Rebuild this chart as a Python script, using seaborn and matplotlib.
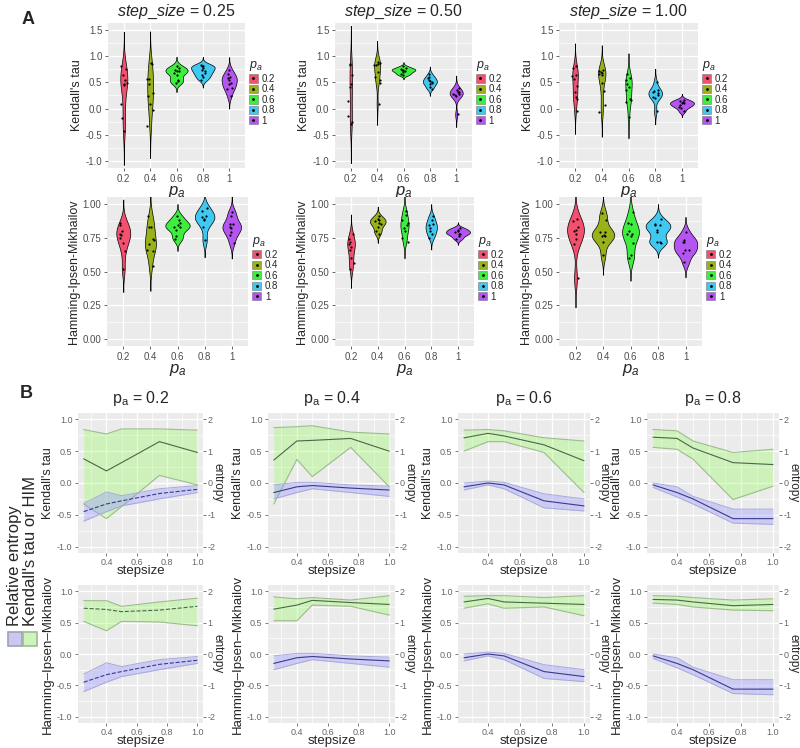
import numpy as np
import pandas as pd
import matplotlib
matplotlib.use('Agg')
import matplotlib.pyplot as plt
import seaborn as sns
from matplotlib.patches import Patch, Rectangle
from matplotlib.lines import Line2D
from matplotlib.ticker import MultipleLocator, FormatStrFormatter

sns.set_style('darkgrid', {'axes.facecolor': '#EBEBEB', 'grid.color': 'white'})
plt.rcParams['font.family'] = ['Liberation Sans', 'DejaVu Sans']
plt.rcParams['mathtext.fontset'] = 'custom'
plt.rcParams['mathtext.rm'] = 'Liberation Sans'
plt.rcParams['mathtext.it'] = 'Liberation Sans:italic'
plt.rcParams['mathtext.bf'] = 'Liberation Sans:bold'
plt.rcParams['axes.unicode_minus'] = False

# ---- panel A data: one list of values per p_a category ----
cats = ['0.2', '0.4', '0.6', '0.8', '1']
violin_cols = ['#F2506E', '#99B21A', '#3EEE3E', '#3EC8F2', '#B455F2']
step_titles = ['0.25', '0.50', '1.00']

tau_025 = [[0.81, 0.75, 0.64, 0.55, 0.49, 0.46, 0.44, 0.08, -0.17, -0.42],
           [0.86, 0.84, 0.57, 0.56, 0.46, 0.30, 0.24, 0.08, -0.02, -0.33],
           [0.81, 0.77, 0.74, 0.72, 0.71, 0.68, 0.63, 0.55, 0.52, 0.49],
           [0.83, 0.81, 0.80, 0.77, 0.74, 0.71, 0.68, 0.64, 0.60, 0.55],
           [0.74, 0.66, 0.60, 0.58, 0.55, 0.49, 0.46, 0.39, 0.37, 0.24]]
tau_050 = [[0.84, 0.83, 0.63, 0.46, 0.42, 0.14, -0.14, -0.25, -0.30],
           [0.89, 0.86, 0.85, 0.83, 0.83, 0.69, 0.60, 0.55, 0.49, 0.09],
           [0.80, 0.77, 0.75, 0.74, 0.73, 0.71, 0.69, 0.66, 0.64],
           [0.66, 0.60, 0.58, 0.55, 0.52, 0.50, 0.49, 0.46, 0.41, 0.38],
           [0.39, 0.35, 0.32, 0.31, 0.28, 0.27, 0.25, 0.24, -0.11]]
tau_100 = [[0.80, 0.77, 0.63, 0.62, 0.57, 0.43, 0.31, 0.23, 0.19, -0.04],
           [0.74, 0.71, 0.70, 0.68, 0.66, 0.63, 0.48, 0.34, 0.07, -0.07],
           [0.65, 0.58, 0.54, 0.46, 0.42, 0.35, 0.19, 0.17, 0.12, -0.16],
           [0.51, 0.36, 0.34, 0.32, 0.29, 0.25, 0.23, 0.20, -0.05],
           [0.17, 0.15, 0.12, 0.10, 0.10, 0.07, 0.04, 0.02, -0.05]]
him_025 = [[0.86, 0.84, 0.80, 0.78, 0.77, 0.75, 0.71, 0.65, 0.52],
           [0.91, 0.83, 0.83, 0.74, 0.73, 0.70, 0.66, 0.65, 0.54],
           [0.91, 0.88, 0.86, 0.84, 0.83, 0.83, 0.81, 0.76, 0.74],
           [0.97, 0.95, 0.91, 0.90, 0.89, 0.88, 0.83, 0.73],
           [0.94, 0.91, 0.85, 0.85, 0.83, 0.82, 0.79, 0.77, 0.71]]
him_050 = [[0.78, 0.74, 0.72, 0.70, 0.68, 0.66, 0.60, 0.56, 0.52],
           [0.91, 0.89, 0.88, 0.87, 0.86, 0.85, 0.83, 0.80, 0.78],
           [0.95, 0.92, 0.88, 0.86, 0.84, 0.82, 0.80, 0.75, 0.72],
           [0.91, 0.88, 0.85, 0.84, 0.82, 0.80, 0.78, 0.75],
           [0.82, 0.81, 0.80, 0.79, 0.78, 0.78, 0.76, 0.74]]
him_100 = [[0.89, 0.87, 0.83, 0.81, 0.80, 0.78, 0.74, 0.70, 0.45],
           [0.93, 0.88, 0.79, 0.79, 0.77, 0.76, 0.76, 0.72, 0.62],
           [0.94, 0.86, 0.85, 0.80, 0.78, 0.78, 0.76, 0.71, 0.62, 0.60],
           [0.89, 0.85, 0.84, 0.84, 0.81, 0.79, 0.72, 0.72, 0.71],
           [0.79, 0.73, 0.72, 0.72, 0.66, 0.66, 0.64, 0.57]]

# ---- panel B data: one row per p_a, one value per step size ----
steps = [0.25, 0.4, 0.5, 0.75, 1.0]
pa_b = ['0.2', '0.4', '0.6', '0.8']
tau_hi = [[0.84, 0.77, 0.85, 0.85, 0.83],
          [0.87, 0.885, 0.90, 0.80, 0.77],
          [0.83, 0.84, 0.82, 0.71, 0.66],
          [0.84, 0.82, 0.66, 0.48, 0.53]]
tau_mid = [[0.38, 0.19, 0.32, 0.65, 0.48],
           [0.36, 0.66, 0.67, 0.70, 0.50],
           [0.71, 0.78, 0.74, 0.60, 0.35],
           [0.72, 0.70, 0.55, 0.32, 0.29]]
tau_lo = [[-0.33, -0.56, -0.37, 0.12, -0.03],
          [-0.33, 0.37, 0.10, 0.56, -0.06],
          [0.50, 0.65, 0.65, 0.48, -0.15],
          [0.56, 0.53, 0.375, -0.26, -0.05]]
him_hi = [[0.85, 0.85, 0.76, 0.83, 0.89],
          [0.91, 0.88, 0.90, 0.86, 0.93],
          [0.92, 0.93, 0.93, 0.90, 0.93],
          [0.93, 0.92, 0.90, 0.86, 0.88]]
him_mid = [[0.73, 0.71, 0.675, 0.70, 0.76],
           [0.715, 0.78, 0.855, 0.82, 0.79],
           [0.83, 0.885, 0.83, 0.81, 0.79],
           [0.87, 0.86, 0.83, 0.77, 0.79]]
him_lo = [[0.52, 0.37, 0.52, 0.51, 0.45],
          [0.53, 0.53, 0.78, 0.76, 0.62],
          [0.73, 0.80, 0.73, 0.75, 0.61],
          [0.81, 0.79, 0.75, 0.70, 0.69]]
ent_hi = [[-0.64, -0.28, -0.40, -0.18, -0.08],
          [-0.06, 0.02, 0.02, -0.06, -0.10],
          [0.00, 0.06, 0.02, -0.34, -0.50],
          [0.00, -0.12, -0.42, -0.82, -0.82]]
ent_mid = [[-0.90, -0.66, -0.56, -0.33, -0.20],
           [-0.30, -0.12, -0.08, -0.16, -0.22],
           [-0.12, 0.00, -0.06, -0.56, -0.72],
           [-0.06, -0.30, -0.50, -1.12, -1.12]]
ent_lo = [[-1.20, -0.90, -0.72, -0.50, -0.30],
          [-0.50, -0.30, -0.18, -0.30, -0.42],
          [-0.22, -0.06, -0.18, -0.78, -0.88],
          [-0.14, -0.44, -0.66, -1.26, -1.30]]

W, H = 800, 748
fig = plt.figure(figsize=(W / 100, H / 100), dpi=100)


def box(x0, y0, x1, y1):
    return [x0 / W, 1 - y1 / H, (x1 - x0) / W, (y1 - y0) / H]


def style_axes(ax, col, size):
    for s in ax.spines.values():
        s.set_visible(False)
    ax.tick_params(which='major', left=True, bottom=True, length=2.5, width=0.6,
                   color=col, labelcolor=col, labelsize=size, pad=1.5)
    ax.tick_params(which='minor', length=0)
    ax.grid(True, which='major', color='white', lw=1.0)
    ax.grid(True, which='minor', color='white', lw=0.5)


# ---------------- panel A ----------------
a_rows = [
    (23, 168, [(108, 245), (335, 472), (559, 698)], [tau_025, tau_050, tau_100],
     "Kendall's tau", (-1.125, 1.625), 0.5, '%.1f'),
    (197, 346, [(107, 248), (335, 474), (559, 702)], [him_025, him_050, him_100],
     'Hamming-Ipsen-Mikhailov', (-0.05, 1.05), 0.25, '%.2f'),
]
np.random.seed(7)
leg_handles = [(Patch(facecolor=c, edgecolor='#777777', lw=0.4),
                Line2D([], [], marker='.', color='black', ls='', markersize=2))
               for c in violin_cols]

for r, (y0, y1, xs, panels, ylab, ylim, step, fmt) in enumerate(a_rows):
    for c, ((x0, x1), groups) in enumerate(zip(xs, panels)):
        ax = fig.add_axes(box(x0, y0, x1, y1))
        df = pd.DataFrame({'pa': [k for k, g in zip(cats, groups) for _ in g],
                           'val': [v for g in groups for v in g]})
        sns.violinplot(data=df, x='pa', y='val', hue='pa', order=cats, hue_order=cats,
                       palette=violin_cols, cut=3, bw_method='silverman', bw_adjust=0.8,
                       inner=None, linewidth=0.5, linecolor='black', width=0.9,
                       density_norm='area', common_norm=True,
                       saturation=1, legend=False, ax=ax)
        sns.stripplot(data=df, x='pa', y='val', order=cats, color='black', size=1.6,
                      jitter=0.12, ax=ax)
        ax.set_xlim(-0.6, 4.6)
        ax.set_ylim(*ylim)
        ax.yaxis.set_major_locator(MultipleLocator(step))
        ax.yaxis.set_minor_locator(MultipleLocator(step / 2))
        ax.yaxis.set_major_formatter(FormatStrFormatter(fmt))
        style_axes(ax, '#4D4D4D', 7)
        ax.set_ylabel(ylab, fontsize=9, labelpad=2)
        ax.set_xlabel(r'$p_a$', fontsize=12, labelpad=0)
        if r == 0:
            ax.set_title(r'$\mathit{step\_size}$ = ' + step_titles[c], fontsize=11.5, pad=5)
        ax.legend(leg_handles, cats, title=r'$p_a$', loc='center left',
                  bbox_to_anchor=(1.03, 0.52), frameon=False, fontsize=7,
                  title_fontsize=9, handlelength=0.9, handleheight=0.9,
                  labelspacing=0.05, handletextpad=0.4, borderaxespad=0,
                  borderpad=0, alignment='left')

# ---------------- panel B ----------------
b_rows = [(413, 553, tau_hi, tau_mid, tau_lo, "Kendall's tau", 9),
          (585, 723, him_hi, him_mid, him_lo, 'Hamming–Ipsen–Mikhailov', 9.5)]
b_cols = [(78, 203), (268, 395), (458, 590), (647, 779)]

for r, (y0, y1, hi, mid, lo, ylab, lsize) in enumerate(b_rows):
    for i, (x0, x1) in enumerate(b_cols):
        ax = fig.add_axes(box(x0, y0, x1, y1))
        ax2 = ax.twinx()
        dash = '--' if i == 0 else '-'
        ax.fill_between(steps, lo[i], hi[i], color='#99FF66', alpha=0.35, lw=0)
        sns.lineplot(x=steps, y=hi[i], color='#9DBB8E', lw=0.8, ax=ax)
        sns.lineplot(x=steps, y=lo[i], color='#9DBB8E', lw=0.8, ax=ax)
        sns.lineplot(x=steps, y=mid[i], color='#4A664A', lw=0.8,
                     ls=dash if r == 1 else '-', ax=ax)
        ax2.fill_between(steps, ent_lo[i], ent_hi[i], color='#9999FF', alpha=0.4, lw=0)
        sns.lineplot(x=steps, y=ent_hi[i], color='#A8A8DC', lw=0.7, ax=ax2)
        sns.lineplot(x=steps, y=ent_lo[i], color='#A8A8DC', lw=0.7, ax=ax2)
        sns.lineplot(x=steps, y=ent_mid[i], color='#3A3A8C', lw=0.8, ls=dash, ax=ax2)

        ax.set_xlim(0.2125, 1.0375)
        ax.set_ylim(-1.1, 1.1)
        ax.set_xticks([0.4, 0.6, 0.8, 1.0])
        ax.set_xticks([0.3, 0.5, 0.7, 0.9], minor=True)
        ax.yaxis.set_major_locator(MultipleLocator(0.5))
        ax.yaxis.set_minor_locator(MultipleLocator(0.25))
        ax.yaxis.set_major_formatter(FormatStrFormatter('%.1f'))
        ax.xaxis.set_major_formatter(FormatStrFormatter('%.1f'))
        style_axes(ax, '#666666', 6.5)
        ax.tick_params(axis='x', pad=1)
        ax.set_ylabel(ylab, fontsize=lsize, labelpad=2)
        ax.set_xlabel('stepsize', fontsize=9.5, labelpad=-1)

        ax2.set_ylim(-2.2, 2.2)
        ax2.set_yticks([-2, -1, 0, 1, 2])
        ax2.set_yticklabels(['-2', '-1', '0', '1', '2'])
        ax2.grid(False)
        for s in ax2.spines.values():
            s.set_visible(False)
        ax2.tick_params(right=True, length=2, width=0.6, color='#666666',
                        labelcolor='#666666', labelsize=6.5, pad=1)
        ax2.set_ylabel('entropy', rotation=270, fontsize=8.5, va='center', ha='center')
        ax2.yaxis.set_label_coords(1 + 14 / (x1 - x0), 0.5)
        if r == 0:
            ax.set_title(r'$\mathregular{p_a}$ = ' + pa_b[i], fontsize=11.5, pad=7)

# legend for panel B on the left side
fig.text(15 / W, 1 - 626 / H, 'Relative entropy', rotation=90, fontsize=12,
         ha='center', va='bottom')
fig.text(31 / W, 1 - 626 / H, "Kendall's tau or HIM", rotation=90, fontsize=12,
         ha='center', va='bottom')
fig.add_artist(Rectangle((8 / W, 1 - 646 / H), 14 / W, 14 / H, transform=fig.transFigure,
                         facecolor='#C8C8F2', edgecolor='#A0A0B8', lw=1.2))
fig.add_artist(Rectangle((23 / W, 1 - 646 / H), 14 / W, 14 / H, transform=fig.transFigure,
                         facecolor='#CEF4BC', edgecolor='#A0B898', lw=1.2))

fig.text(28 / W, 1 - 19 / H, 'A', fontsize=13, fontweight='bold', ha='center', va='center')
fig.text(26 / W, 1 - 393 / H, 'B', fontsize=13, fontweight='bold', ha='center', va='center')

fig.savefig('out.png', dpi=100)
